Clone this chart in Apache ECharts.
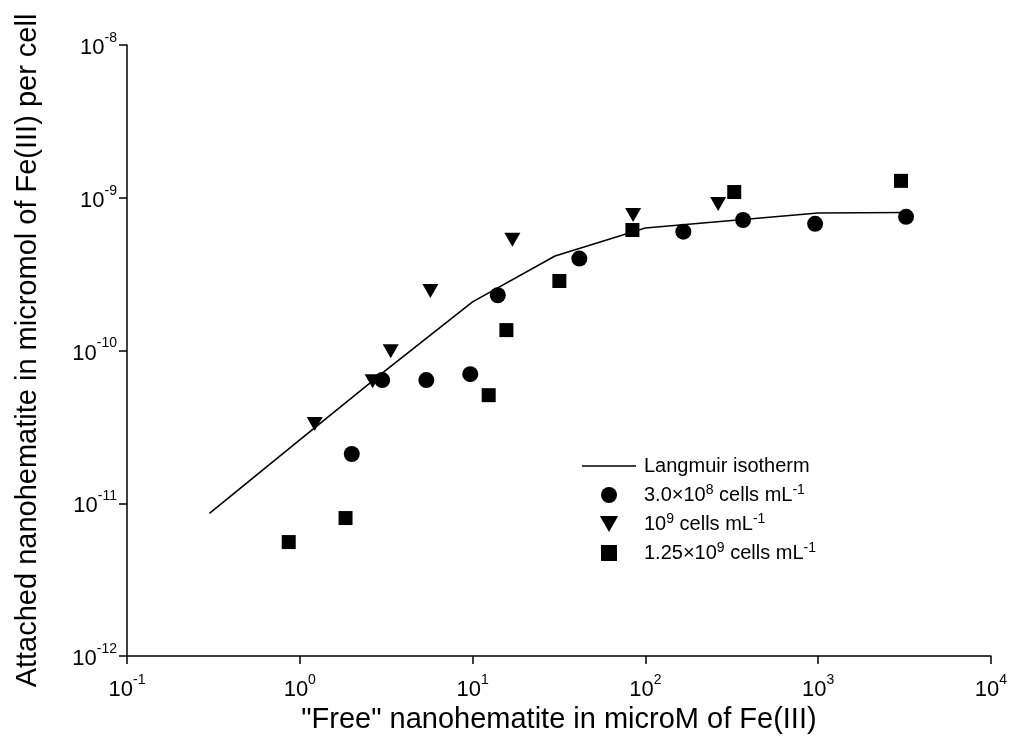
<!DOCTYPE html>
<html>
<head>
<meta charset="utf-8">
<script src="https://cdn.jsdelivr.net/npm/echarts@6/dist/echarts.min.js"></script>
<style>
html,body{margin:0;padding:0;background:#fff;}
#chart{width:1010px;height:747px;}
</style>
</head>
<body>
<div id="chart"></div>
<script>
// ---- Data ----
var circlesX = [2.0, 3.0, 5.4, 9.7, 14.0, 41.5, 166, 368, 961, 3230];
var circlesY = [2.1e-11, 6.4e-11, 6.4e-11, 7.0e-11, 2.3e-10, 4.0e-10, 6.0e-10, 7.15e-10, 6.75e-10, 7.5e-10];

var trianglesX = [1.22, 2.64, 3.36, 5.7, 17.0, 85, 264];
var trianglesY = [3.3e-11, 6.3e-11, 9.9e-11, 2.45e-10, 5.3e-10, 7.7e-10, 9.1e-10];

var squaresX = [0.863, 1.84, 12.4, 15.7, 31.8, 84.2, 327, 3020];
var squaresY = [5.57e-12, 8.0e-12, 5.1e-11, 1.36e-10, 2.85e-10, 6.15e-10, 1.09e-9, 1.29e-9];

var langmuirX = [0.3, 1, 3, 10, 30, 100, 1000, 3200];
var langmuirY = [8.6e-12, 2.6e-11, 7.1e-11, 2.08e-10, 4.16e-10, 6.34e-10, 7.94e-10, 8.0e-10];

var xTickExponents = ['-1', '0', '1', '2', '3', '4'];
var yTickExponents = ['-12', '-11', '-10', '-9', '-8'];

var seriesNames = ['Langmuir isotherm', 'circles', 'triangles', 'squares'];
var legendLabels = [
  'Langmuir isotherm',
  '3.0×10{s|8} cells mL{s|-1}',
  '10{s|9} cells mL{s|-1}',
  '1.25×10{s|9} cells mL{s|-1}'
];

function zip(xs, ys) { return xs.map(function (x, i) { return [x, ys[i]]; }); }
function expLabel(list) {
  return function (v) {
    var e = String(Math.round(Math.log10(v)));
    if (list.indexOf(e) < 0) return '';
    return '{b|10}{s|' + e + '}';
  };
}

var FONT = '"Liberation Sans", Arial, sans-serif';
var tickRich = {
  b: { fontSize: 22, fontFamily: FONT, color: '#000', lineHeight: 28, verticalAlign: 'bottom' },
  s: { fontSize: 14, fontFamily: FONT, color: '#000', lineHeight: 28, verticalAlign: 'top' }
};

var TRI_PATH = 'path://M0,0 L16,0 L8,14 Z';
var LINE_ICON = 'path://M0,0 L54,0 L54,1.6 L0,1.6 Z';
var SQUARE_ICON = 'path://M0,0 L14,0 L14,14 L0,14 Z';

var chart = echarts.init(document.getElementById('chart'), null, { renderer: 'canvas' });
chart.setOption({
  backgroundColor: '#fff',
  animation: false,
  grid: { left: 127, right: 18, top: 45, bottom: 91, containLabel: false },
  xAxis: {
    type: 'log', logBase: 10, min: 0.1, max: 10000,
    name: '"Free" nanohematite in microM of Fe(III)',
    nameLocation: 'middle', nameGap: 46,
    nameTextStyle: { fontSize: 29, fontFamily: FONT, color: '#000' },
    axisLine: { lineStyle: { color: '#000', width: 1.5 } },
    axisTick: { show: true, inside: false, length: 8, lineStyle: { color: '#000', width: 1.5 } },
    minorTick: { show: false },
    splitLine: { show: false },
    axisLabel: { margin: 17, formatter: expLabel(xTickExponents), rich: tickRich }
  },
  yAxis: {
    type: 'log', logBase: 10, min: 1e-12, max: 1e-8,
    name: 'Attached nanohematite in micromol of Fe(III) per cell',
    nameLocation: 'middle', nameGap: 85,
    nameTextStyle: { fontSize: 29, fontFamily: FONT, color: '#000' },
    axisLine: { show: true, lineStyle: { color: '#000', width: 1.5 } },
    axisTick: { show: true, inside: false, length: 8, lineStyle: { color: '#000', width: 1.5 } },
    minorTick: { show: false },
    splitLine: { show: false },
    axisLabel: { margin: 10, formatter: expLabel(yTickExponents), rich: tickRich }
  },
  legend: {
    orient: 'vertical', left: 577, top: 449,
    itemWidth: 54, itemHeight: 16, itemGap: 5,
    symbolKeepAspect: true,
    data: [
      { name: seriesNames[0], icon: LINE_ICON },
      { name: seriesNames[1], icon: 'circle' },
      { name: seriesNames[2], icon: TRI_PATH },
      { name: seriesNames[3], icon: SQUARE_ICON }
    ],
    formatter: function (name) { return legendLabels[seriesNames.indexOf(name)]; },
    textStyle: {
      fontSize: 20, fontFamily: FONT, color: '#000', lineHeight: 24, padding: [0, 0, 0, 3],
      verticalAlign: 'bottom',
      rich: {
        s: { fontSize: 14, fontFamily: FONT, color: '#000', verticalAlign: 'top', lineHeight: 24 }
      }
    },
    selectedMode: false
  },
  series: [
    {
      name: seriesNames[0], type: 'line', data: zip(langmuirX, langmuirY),
      symbol: 'none', lineStyle: { color: '#000', width: 1.6 }, itemStyle: { color: '#000' }, z: 1
    },
    {
      name: seriesNames[1], type: 'scatter', data: zip(circlesX, circlesY),
      symbol: 'circle', symbolSize: 16, itemStyle: { color: '#000', opacity: 1 }, z: 3
    },
    {
      name: seriesNames[2], type: 'scatter', data: zip(trianglesX, trianglesY),
      symbol: TRI_PATH, symbolSize: [16, 14], itemStyle: { color: '#000', opacity: 1 }, z: 3
    },
    {
      name: seriesNames[3], type: 'scatter', data: zip(squaresX, squaresY),
      symbol: 'rect', symbolSize: 14, itemStyle: { color: '#000', opacity: 1 }, z: 3
    }
  ]
});
</script>
</body>
</html>
